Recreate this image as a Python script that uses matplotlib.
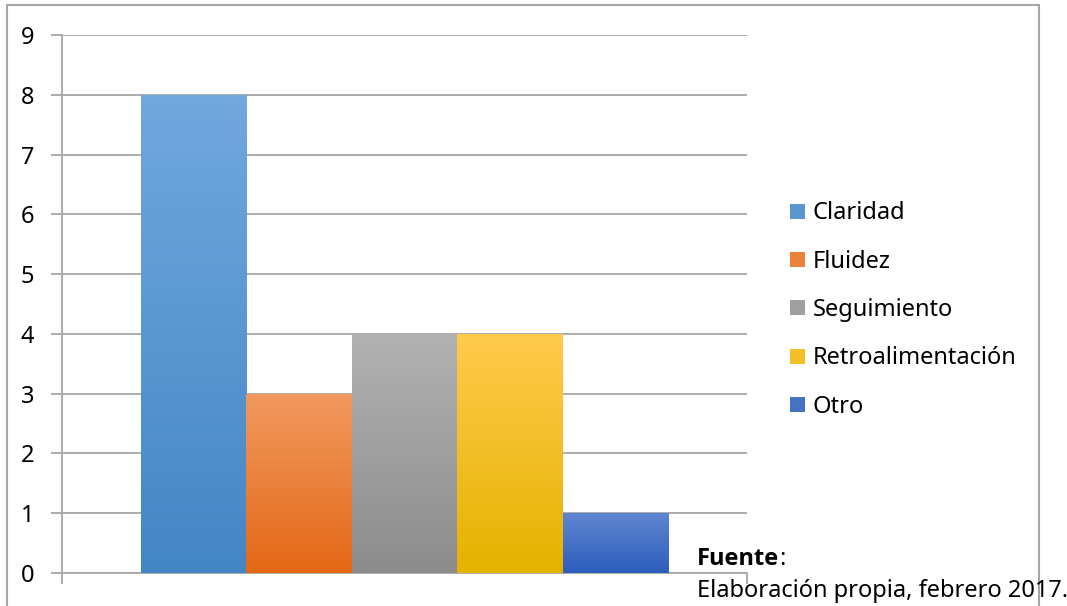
import numpy as np
import matplotlib.pyplot as plt
from matplotlib.colors import to_rgb
from matplotlib.patches import Rectangle, Patch

plt.rcParams['font.family'] = ['Noto Sans', 'DejaVu Sans']

# Datos de la gráfica
categorias = ['Claridad', 'Fluidez', 'Seguimiento', 'Retroalimentación', 'Otro']
valores = [8, 3, 4, 4, 1]
# color superior / inferior del degradado de cada barra
color_arriba = ['#71a8de', '#f1995f', '#b2b2b2', '#ffcb4c', '#5f86d0']
color_abajo = ['#4386c6', '#e46816', '#8c8c8c', '#e5b200', '#2d5ebc']
y_ticks = list(range(0, 10))

W, H = 1067, 606
fs = 17
fig = plt.figure(figsize=(W / 100, H / 100), dpi=100)
ax = fig.add_axes([62 / W, 33 / H, 685 / W, 538 / H])

grid_color = '#a6a6a6'
ancho = 0.1539
x0 = 0.5 - 2.5 * ancho
for i, (v, c1, c2) in enumerate(zip(valores, color_arriba, color_abajo)):
    x = x0 + i * ancho
    bar = ax.bar(x, v, width=ancho, align='edge', color='none', zorder=3)[0]
    top = np.array(to_rgb(c1))
    bot = np.array(to_rgb(c2))
    t = np.linspace(0, 1, 256)[:, None]
    grad = (top * (1 - t) + bot * t)[:, None, :]
    im = ax.imshow(grad, extent=[x, x + ancho, 0, v], aspect='auto',
                   origin='upper', zorder=3)
    im.set_clip_path(bar)

ax.set_xlim(0, 1)
ax.set_ylim(0, 9)
ax.set_yticks(y_ticks)
ax.set_xticks([0, 1])
ax.set_xticklabels([])
ax.yaxis.grid(True, color=grid_color, linewidth=1.3, zorder=0)
ax.tick_params(axis='y', length=8, color=grid_color, width=1.3, pad=12, labelsize=fs)
ax.tick_params(axis='x', length=8, color=grid_color, width=1.3)
for s in ['top', 'right']:
    ax.spines[s].set_visible(False)
for s in ['left', 'bottom']:
    ax.spines[s].set_color(grid_color)
    ax.spines[s].set_linewidth(1.3)
ax.set_axisbelow(True)

# leyenda
handles = [Patch(facecolor=(np.array(to_rgb(a)) + np.array(to_rgb(b))) / 2)
           for a, b in zip(color_arriba, color_abajo)]
fig.legend(handles, categorias, loc='upper left',
           bbox_to_anchor=(781 / W, 1 - 192 / H), frameon=False,
           fontsize=fs, handlelength=0.6, handleheight=0.6,
           handletextpad=0.35, labelspacing=1.03, borderaxespad=0)

# marco exterior
fig.patches.append(Rectangle((7 / W, -0.1), 1032 / W, 1.1 - 5 / H,
                             transform=fig.transFigure, fill=False,
                             edgecolor='#a6a6a6', linewidth=1.5))

t_fuente = fig.text(697 / W, 1 - 559 / H, 'Fuente', fontsize=fs,
                    family=['Open Sans', 'DejaVu Sans'], fontweight='bold', va='center')
fig.canvas.draw()
bb = t_fuente.get_window_extent()
fig.text(bb.x1 / W, 1 - 559 / H, ':', fontsize=fs, va='center')
fig.text(697 / W, 1 - 591 / H, 'Elaboración propia, febrero 2017.', fontsize=fs, va='center')

fig.savefig('out.png', dpi=100)
